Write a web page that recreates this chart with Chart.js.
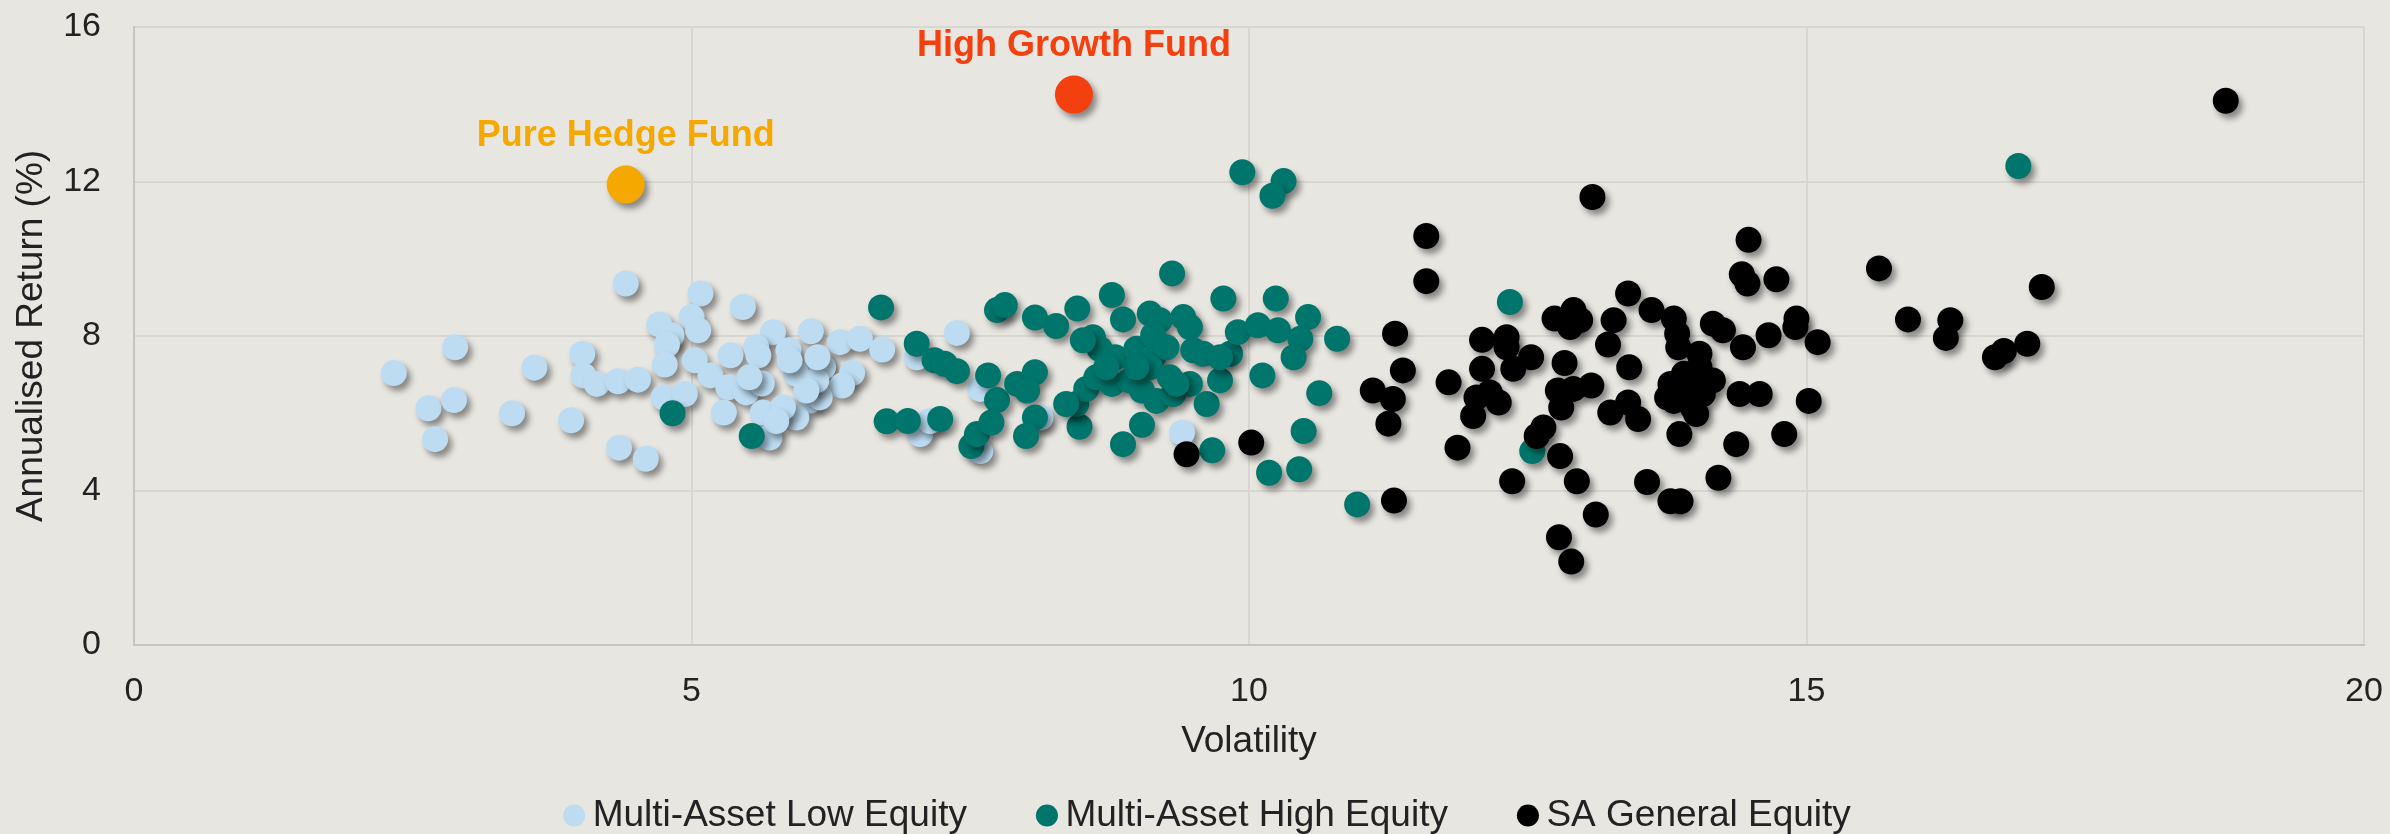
<!DOCTYPE html>
<html>
<head>
<meta charset="utf-8">
<script src="https://cdn.jsdelivr.net/npm/chart.js@4.4.1/dist/chart.umd.min.js"></script>
<style>
  html, body { margin: 0; padding: 0; background: #e8e6e1; }
  canvas { display: block; background: #e8e6e1; }
</style>
</head>
<body>
<canvas id="riskChart" width="2390" height="834"></canvas>
<script>
// volatility (x) and annualised return (y) per category
const lowEqVol = [4.41, 5.08, 5.46, 4.71, 5.00, 4.82, 5.06, 4.78, 5.73, 6.07, 2.88, 4.02, 3.59, 2.33, 4.76, 4.03, 4.15, 4.34, 4.52, 5.03,
  5.17, 5.35, 5.58, 5.60, 5.87, 6.15, 5.33, 5.49, 5.63, 5.94, 6.06, 4.75, 4.94, 5.29, 5.64, 5.94, 5.70, 2.64, 2.87, 2.70,
  3.39, 3.92, 4.35, 4.59, 6.33, 6.51, 6.71, 7.38, 6.18, 6.44, 6.35, 7.02, 7.59, 7.05, 7.14, 7.59, 8.13, 9.40, 6.15, 6.12,
  6.03, 5.82, 5.88, 5.52, 5.76, 6.13];
const lowEqRet = [9.36, 9.10, 8.75, 8.30, 8.49, 8.02, 8.15, 7.78, 8.10, 8.12, 7.71, 7.54, 7.18, 7.04, 7.26, 6.98, 6.76, 6.83, 6.87, 7.37,
  6.98, 7.50, 7.71, 7.50, 7.63, 7.29, 6.67, 6.54, 6.77, 7.02, 6.33, 6.41, 6.50, 6.02, 6.02, 5.89, 5.37, 6.13, 6.34, 5.33,
  6.00, 5.82, 5.11, 4.82, 7.84, 7.93, 7.65, 8.08, 7.19, 7.04, 6.72, 7.45, 6.63, 5.46, 5.80, 5.02, 5.89, 5.50, 6.41, 6.85,
  6.59, 6.15, 7.37, 6.93, 5.80, 7.45];

const highEqVol = [4.83, 5.54, 9.94, 10.31, 10.21, 9.31, 6.70, 7.74, 7.81, 8.08, 8.27, 8.46, 8.77, 8.87, 9.77, 10.24, 10.53, 10.79, 7.02, 7.18,
  7.27, 7.38, 7.66, 7.74, 7.92, 8.08, 8.01, 6.75, 6.94, 7.23, 7.51, 7.56, 7.69, 8.08, 8.00, 8.48, 8.45, 8.54, 8.63, 8.60,
  8.66, 8.80, 8.77, 8.93, 8.99, 9.11, 9.20, 9.14, 9.14, 9.26, 9.11, 9.04, 9.17, 9.32, 9.41, 9.47, 9.50, 9.59, 9.47, 9.62,
  9.74, 9.83, 9.90, 10.08, 10.26, 10.46, 10.40, 10.12, 10.63, 10.49, 10.18, 10.45, 9.67, 9.04, 8.87, 8.36, 9.29, 8.99, 12.34, 12.54,
  10.97, 16.90, 8.51, 8.72, 9.35, 9.74];
const highEqRet = [6.00, 5.41, 12.24, 12.01, 11.63, 9.62, 8.74, 8.67, 8.80, 8.48, 8.26, 8.71, 9.06, 8.43, 8.97, 8.97, 8.49, 7.93, 7.80, 7.37,
  7.28, 7.09, 6.98, 6.34, 6.76, 7.06, 6.59, 5.79, 5.80, 5.85, 5.15, 5.46, 5.76, 5.89, 5.41, 5.65, 6.24, 6.63, 6.93, 7.97,
  7.67, 7.45, 6.76, 6.85, 7.67, 8.58, 8.41, 8.02, 7.45, 7.71, 7.19, 6.59, 6.32, 6.50, 8.49, 8.23, 7.63, 7.54, 6.76, 6.24,
  6.85, 7.54, 8.10, 8.28, 8.15, 7.93, 7.45, 6.98, 6.52, 5.54, 4.46, 4.55, 5.04, 5.70, 5.20, 6.24, 6.93, 7.19, 8.88, 5.02,
  3.64, 12.40, 7.89, 7.19, 6.76, 7.45];

const saEqVol = [9.44, 10.02, 13.08, 11.59, 11.59, 14.48, 14.42, 14.47, 14.73, 13.40, 13.61, 13.81, 13.84, 13.85, 14.04, 14.16, 14.25, 14.43, 14.66, 14.91,
  14.90, 15.10, 13.27, 13.22, 13.41, 12.91, 12.74, 12.88, 12.97, 12.31, 12.09, 12.31, 12.53, 12.37, 12.09, 12.83, 11.31, 11.38, 11.11, 11.29,
  11.25, 11.79, 12.04, 12.16, 12.24, 12.01, 11.87, 12.77, 12.91, 13.07, 12.80, 12.64, 12.58, 13.24, 13.40, 13.49, 12.79, 12.36, 12.94, 13.11,
  12.78, 12.89, 13.57, 13.78, 13.87, 14.21, 13.86, 14.37, 14.80, 15.02, 14.40, 14.58, 11.30, 13.78, 13.90, 14.04, 14.16, 13.81, 13.98, 14.07,
  13.75, 13.96, 14.01, 18.76, 15.65, 17.11, 15.91, 16.29, 16.25, 16.69, 16.77, 16.98];
const saEqRet = [4.94, 5.24, 11.60, 10.59, 9.42, 10.49, 9.60, 9.36, 9.47, 9.10, 8.67, 8.45, 8.06, 7.71, 7.54, 8.32, 8.15, 7.71, 8.02, 8.45,
  8.23, 7.84, 8.41, 7.78, 7.19, 8.67, 8.45, 8.23, 8.41, 7.97, 7.90, 7.71, 7.45, 7.15, 7.15, 7.30, 8.06, 7.11, 6.59, 6.37,
  5.73, 6.80, 6.41, 6.54, 6.28, 5.93, 5.11, 6.59, 6.63, 6.72, 6.15, 5.63, 5.41, 6.02, 6.28, 5.85, 4.89, 4.24, 4.24, 3.38,
  2.79, 2.16, 4.22, 3.72, 3.72, 4.33, 5.46, 5.20, 5.46, 6.32, 6.50, 6.50, 3.74, 6.76, 7.02, 7.19, 6.85, 6.32, 6.15, 6.50,
  6.41, 6.67, 5.98, 14.09, 9.75, 9.27, 8.43, 8.41, 7.95, 7.45, 7.61, 7.80];

// highlighted funds
const fundNames = ['Pure Hedge Fund', 'High Growth Fund'];
const fundVol = [4.41, 8.43];
const fundRet = [11.92, 14.25];
const fundColors = ['#f5a800', '#f4400f'];

const xTicks = [0, 5, 10, 15, 20];
const yTicks = [0, 4, 8, 12, 16];

const FONT = "'Liberation Sans', Arial, sans-serif";
const TEXT = '#222222';

function toPoints(xs, ys) {
  return xs.map(function(x, i) { return { x: x, y: ys[i] }; });
}

// soft drop shadow under every dot
const dotShadow = {
  id: 'dotShadow',
  beforeDatasetDraw: function(chart) {
    const ctx = chart.ctx;
    ctx.save();
    ctx.shadowColor = 'rgba(0,0,0,0.42)';
    ctx.shadowBlur = 6;
    ctx.shadowOffsetX = 4;
    ctx.shadowOffsetY = 5;
  },
  afterDatasetDraw: function(chart) {
    chart.ctx.restore();
  }
};

// names above the two highlighted funds
const fundLabels = {
  id: 'fundLabels',
  afterDatasetsDraw: function(chart) {
    const ctx = chart.ctx;
    const meta = chart.getDatasetMeta(0);
    ctx.save();
    ctx.font = 'bold 36px ' + FONT;
    ctx.textAlign = 'center';
    ctx.textBaseline = 'middle';
    meta.data.forEach(function(pt, i) {
      ctx.fillStyle = fundColors[i];
      ctx.fillText(fundNames[i], pt.x, pt.y - 49);
    });
    ctx.restore();
  }
};

new Chart(document.getElementById('riskChart'), {
  type: 'scatter',
  data: {
    datasets: [{
      label: 'Highlighted',
      data: toPoints(fundVol, fundRet),
      backgroundColor: fundColors,
      pointRadius: 19,
      borderWidth: 0
    }, {
      label: 'SA General Equity',
      data: toPoints(saEqVol, saEqRet),
      backgroundColor: '#000000',
      pointRadius: 13,
      borderWidth: 0
    }, {
      label: 'Multi-Asset High Equity',
      data: toPoints(highEqVol, highEqRet),
      backgroundColor: '#00756b',
      pointRadius: 13,
      borderWidth: 0
    }, {
      label: 'Multi-Asset Low Equity',
      data: toPoints(lowEqVol, lowEqRet),
      backgroundColor: '#bddcf2',
      pointRadius: 13,
      borderWidth: 0
    }]
  },
  options: {
    responsive: false,
    animation: false,
    devicePixelRatio: 1,
    layout: {
      padding: { left: 61, right: 26, top: 27, bottom: -10 }
    },
    plugins: {
      tooltip: { enabled: false },
      legend: {
        position: 'bottom',
        labels: {
          usePointStyle: true,
          pointStyle: 'circle',
          boxWidth: 0.01,
          boxHeight: 15.6,
          padding: 80,
          color: TEXT,
          font: { family: FONT, size: 37 },
          filter: function(item) { return item.datasetIndex !== 0; },
          sort: function(a, b) { return b.datasetIndex - a.datasetIndex; }
        }
      }
    },
    scales: {
      x: {
        type: 'linear',
        min: 0,
        max: 20,
        afterBuildTicks: function(scale) {
          scale.ticks = xTicks.map(function(v) { return { value: v }; });
        },
        afterFit: function(scale) { scale.height = 72; },
        // invisible tick marks give the gap between axis and labels
        grid: { color: '#d8d6d2', lineWidth: 2, drawTicks: true, tickLength: 26, tickColor: 'rgba(0,0,0,0)' },
        border: { color: '#c4c4c4', width: 2 },
        ticks: { padding: 0, color: TEXT, font: { family: FONT, size: 34 } },
        title: {
          display: true,
          text: 'Volatility',
          color: TEXT,
          font: { family: FONT, size: 37 },
          padding: { top: 0, bottom: -47.2 }
        }
      },
      y: {
        type: 'linear',
        min: 0,
        max: 16,
        afterBuildTicks: function(scale) {
          scale.ticks = yTicks.map(function(v) { return { value: v }; });
        },
        afterFit: function(scale) { scale.width = 73; },
        grid: { color: '#d8d6d2', lineWidth: 2, drawTicks: true, tickLength: 33, tickColor: 'rgba(0,0,0,0)' },
        border: { color: '#c4c4c4', width: 2 },
        ticks: { padding: 0, color: TEXT, font: { family: FONT, size: 34 } },
        title: {
          display: true,
          text: 'Annualised Return (%)',
          color: TEXT,
          font: { family: FONT, size: 37 },
          padding: { top: -51.2, bottom: 0 }
        }
      }
    }
  },
  plugins: [dotShadow, fundLabels]
});
</script>
</body>
</html>
